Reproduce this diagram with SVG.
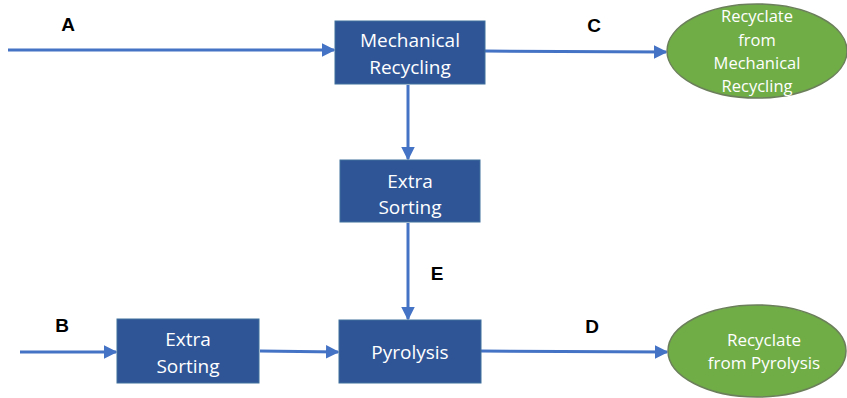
<svg xmlns="http://www.w3.org/2000/svg" width="847" height="398" viewBox="0 0 847 398">
<defs>
<marker id="ah" markerWidth="4.5" markerHeight="4.5" refX="4" refY="2.25" orient="auto" markerUnits="strokeWidth"><path d="M0,0 L4.5,2.25 L0,4.5 Z" fill="#4472C4"/></marker>
<style>
.box{fill:#2F5597;stroke:#41719C;stroke-width:1}
.ell{fill:#70AD47;stroke:#6B7F5A;stroke-width:1.5}
.t{font-family:"Open Sans","Liberation Sans",sans-serif;font-size:19px;fill:#fff;text-anchor:middle}
.te{font-family:"Open Sans","Liberation Sans",sans-serif;font-size:16.5px;fill:#fff;text-anchor:middle}
.tp{font-family:"Open Sans","Liberation Sans",sans-serif;font-size:17px;fill:#fff;text-anchor:middle}
.lbl{font-family:"Liberation Sans",sans-serif;font-size:19px;font-weight:bold;fill:#000;text-anchor:middle}
.c{stroke:#4472C4;stroke-width:3;fill:none;marker-end:url(#ah)}
</style>
</defs>
<g id="connectors">
<line class="c" x1="8" y1="50" x2="334" y2="50"/>
<line class="c" x1="485" y1="51" x2="666" y2="52"/>
<line class="c" x1="408" y1="85" x2="408" y2="159"/>
<line class="c" x1="408" y1="223" x2="408" y2="319"/>
<line class="c" x1="20" y1="352" x2="116" y2="352"/>
<line class="c" x1="260" y1="351" x2="338" y2="352"/>
<line class="c" x1="481" y1="351" x2="667" y2="352"/>
</g>
<g id="labels">
<text class="lbl" x="68" y="31">A</text>
<text class="lbl" x="594" y="32">C</text>
<text class="lbl" x="437" y="280">E</text>
<text class="lbl" x="62" y="332">B</text>
<text class="lbl" x="592" y="333">D</text>
</g>
<g id="mech">
<rect class="box" x="335" y="21" width="150" height="63"/>
<text class="t" x="410" y="47">Mechanical</text>
<text class="t" x="410" y="74">Recycling</text>
</g>
<g id="sort1">
<rect class="box" x="340" y="160" width="140" height="62"/>
<text class="t" x="410" y="188">Extra</text>
<text class="t" x="410" y="214">Sorting</text>
</g>
<g id="sort2">
<rect class="box" x="117" y="319" width="142" height="64"/>
<text class="t" x="188" y="346">Extra</text>
<text class="t" x="188" y="373">Sorting</text>
</g>
<g id="pyro">
<rect class="box" x="339" y="320" width="142" height="63"/>
<text class="t" x="410" y="359">Pyrolysis</text>
</g>
<g id="rec1">
<ellipse class="ell" cx="757" cy="51" rx="90" ry="47"/>
<text class="te" x="757" y="22">Recyclate</text>
<text class="te" x="757" y="46">from</text>
<text class="te" x="757" y="69">Mechanical</text>
<text class="te" x="757" y="92">Recycling</text>
</g>
<g id="rec2">
<ellipse class="ell" cx="757" cy="351" rx="89" ry="46"/>
<text class="tp" x="764" y="346">Recyclate</text>
<text class="tp" x="764" y="369">from Pyrolysis</text>
</g>
</svg>
